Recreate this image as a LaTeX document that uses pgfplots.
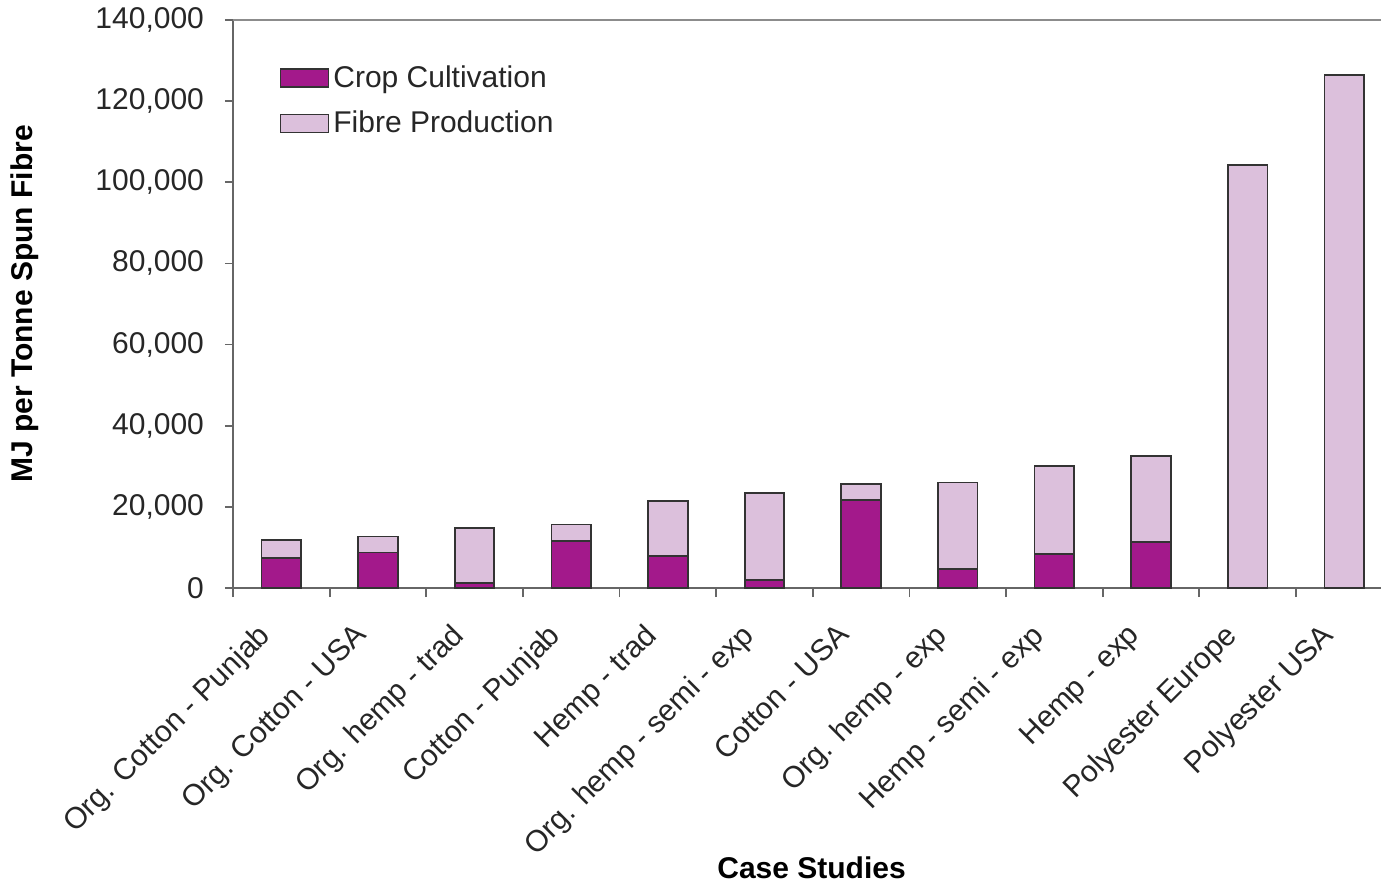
\documentclass[border=0pt]{standalone}
\usepackage{pgfplots}
\pgfplotsset{compat=1.18}
\usepackage{fontspec}
\setmainfont{Liberation Sans}
\usetikzlibrary{calc}
\definecolor{crop}{RGB}{163,25,139}
\definecolor{fibre}{RGB}{220,192,220}
\begin{document}
\begin{tikzpicture}[font=\fontsize{15}{18}\selectfont]
\begin{axis}[
  scale only axis, width=574pt, height=284pt,
  ybar stacked, bar width=0.41,
  xmin=-0.5, xmax=11.38, ymin=0, ymax=140000,
  axis x line*=bottom, axis y line*=left,
  axis line style={draw=black!60, line width=0.9pt},
  tick align=outside,
  major tick length=4pt, minor tick length=4.5pt,
  xtick={0,...,11},
  xticklabels={Org. Cotton - Punjab, Org. Cotton - USA, Org. hemp - trad, Cotton - Punjab, Hemp - trad, Org. hemp - semi - exp, Cotton - USA, Org. hemp - exp, Hemp - semi - exp, Hemp - exp, Polyester Europe, Polyester USA},
  minor xtick={-0.5,0.5,...,10.5},
  major x tick style={draw=none},
  minor x tick style={draw=black!60, line width=0.9pt},
  ytick={0,20000,40000,60000,80000,100000,120000,140000},
  yticklabels={0,{20,000},{40,000},{60,000},{80,000},{100,000},{120,000},{140,000}},
  y tick style={draw=black!60, line width=0.9pt},
  scaled y ticks=false,
  yticklabel style={xshift=-7pt, text=black!85},
  xticklabel style={rotate=45, anchor=north east, text=black!85, xshift=-14.4pt, yshift=3.2pt},
  ylabel={\bfseries MJ per Tonne Spun Fibre},
  ylabel style={at={(rel axis cs:0,0.5)}, yshift=104pt, anchor=center},
  xlabel={\bfseries Case Studies},
  xlabel style={at={(rel axis cs:0.504,0)}, yshift=-140pt, anchor=center},
  legend style={at={(rel axis cs:0.035,0.935)}, anchor=north west, draw=none, fill=none,
    row sep=6.5pt, font=\fontsize{15}{18}\selectfont, text=black!85},
  legend cell align=left,
]
\addplot[fill=crop, draw=black!80, line width=0.9pt,
  legend image code/.code={\draw[fill=crop, draw=black!80, line width=0.9pt] (0pt,-4.5pt) rectangle (24pt,4.5pt);}]
  coordinates {(0,7400) (1,8730) (2,1230) (3,11520) (4,7810) (5,1890) (6,21620) (7,4690) (8,8470) (9,11260) (10,0) (11,0)};
\addplot[fill=fibre, draw=black!80, line width=0.9pt,
  legend image code/.code={\draw[fill=fibre, draw=black!80, line width=0.9pt] (0pt,-4.5pt) rectangle (24pt,4.5pt);}]
  coordinates {(0,4360) (1,3950) (2,13490) (3,4110) (4,13730) (5,21620) (6,3940) (7,21290) (8,21530) (9,21290) (10,104240) (11,126510)};
\legend{Crop Cultivation, Fibre Production}
\draw[black!45, line width=0.9pt] (rel axis cs:0,1) -- (rel axis cs:1,1);
\end{axis}
\pgfresetboundingbox
\useasboundingbox ($(current axis.south west)+(-116.5pt,-147.5pt)$) rectangle ($(current axis.north east)+(0pt,10pt)$);
\end{tikzpicture}
\end{document}
